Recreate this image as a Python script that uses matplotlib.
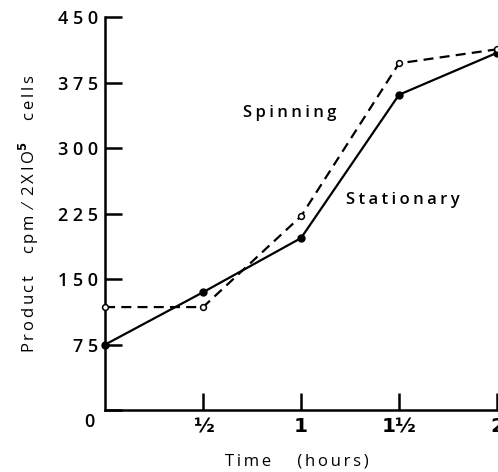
import matplotlib
matplotlib.use("Agg")
import matplotlib.pyplot as plt
from matplotlib.transforms import ScaledTranslation

time_h = [0, 0.5, 1, 1.5, 2]
stationary = [75, 135, 197, 361, 409]
spinning = [118, 118, 222, 397, 413]
x_ticks = [0.5, 1, 1.5, 2]
x_ticklabels = ["½", "1", "1½", "2"]
y_ticks = [0, 75, 150, 225, 300, 375, 450]
y_ticklabels = ["0", "7 5", "1 5 0", "2 2 5", "3 0 0", "3 7 5", "4 5 0"]

TS = "\u2009"
def spaced(s):
    return TS.join(s)

plt.rcParams['font.family'] = ['Open Sans', 'DejaVu Sans']
plt.rcParams['font.weight'] = 'semibold'
fig = plt.figure(figsize=(4.98, 4.72), dpi=100)
ax = fig.add_axes([0.211, 0.131, 0.787, 0.833])

ax.plot(time_h, stationary, color='black', lw=1.6, marker='o', ms=5,
        mfc='black', mec='black', clip_on=False, zorder=3)
ax.plot(time_h, spinning, color='black', lw=1.6, ls=(0, (4.5, 2.8)), marker='o', ms=4.2,
        mfc='white', mec='black', mew=1.1, clip_on=False, zorder=3)

ax.set_xlim(0, 2)
ax.set_ylim(0, 450)
for s in ['top', 'right']:
    ax.spines[s].set_visible(False)
for s in ['left', 'bottom']:
    ax.spines[s].set_linewidth(1.8)

ax.set_xticks(x_ticks)
ax.set_xticklabels(x_ticklabels, fontsize=14.5, fontfamily=['DejaVu Sans'], fontweight='bold')
ax.set_yticks(y_ticks)
ax.set_yticklabels(y_ticklabels, fontsize=13)
ax.tick_params(axis='both', direction='in', length=12, width=1.8, pad=6)
ax.tick_params(axis='x', pad=5)
ax.tick_params(axis='y', pad=5)

zero = ax.get_yticklabels()[0]
zero.set_transform(zero.get_transform() + ScaledTranslation(-0.04, -0.10, fig.dpi_scale_trans))

ax.text(0.94, 340, spaced("Spinning"), fontsize=12, ha='center', va='center')
ax.text(1.52, 240, spaced("Stationary"), fontsize=12, ha='center', va='center')

ax.set_xlabel(spaced("Time") + "      " + spaced("(hours)"), fontsize=12, labelpad=10)
ax.xaxis.set_label_coords(0.49, -0.11)
ax.set_ylabel(spaced("Product") + "     " + spaced("cpm") + "  ⁄  " + spaced("2XIO") + "$^5$     " + spaced("cells"),
              fontsize=12, labelpad=12)

fig.savefig("out.png", dpi=100)
